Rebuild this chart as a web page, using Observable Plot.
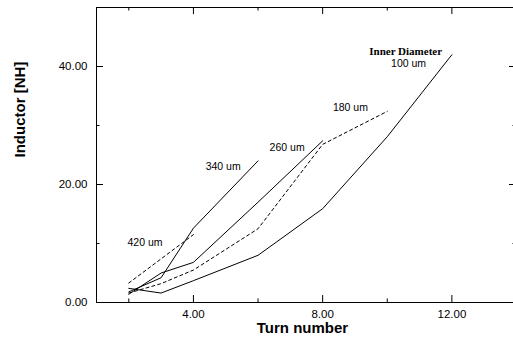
<!DOCTYPE html>
<html><head><meta charset="utf-8">
<script src="https://cdn.jsdelivr.net/npm/d3@7"></script>
<script src="https://cdn.jsdelivr.net/npm/@observablehq/plot@0.6"></script>
<style>html,body{margin:0;padding:0;overflow:hidden;background:#fff;width:513px;height:341px}</style>
</head><body><div id="chart"></div>
<script>
// Inductance [nH] vs turn number for several inner diameters
const turns100 = [2, 3, 4, 6, 8, 10, 12];
const ind100   = [2.4, 1.6, 3.7, 8.0, 15.9, 28.1, 42.0];
const turns180 = [2, 3, 4, 6, 8, 10];
const ind180   = [1.6, 3.2, 5.5, 12.5, 26.8, 32.4];
const turns260 = [2, 3, 4, 6, 8];
const ind260   = [1.4, 5.0, 6.8, 17.0, 27.4];
const turns340 = [2, 3, 4, 6];
const ind340   = [1.8, 4.2, 12.6, 24.0];
const turns420 = [2, 3, 4];
const ind420   = [3.3, 7.4, 11.5];

const labelText = ["Inner Diameter", "100 um", "180 um", "260 um", "340 um", "420 um"];
const labelTurn = [10.57, 10.66, 8.86, 6.9, 4.92, 2.5];
const labelInd  = [42.6, 40.5, 33.1, 26.3, 23.1, 10.1];

const xMajor = [4, 8, 12];
const xMinor = [2, 6, 10];
const yMajor = [0, 20, 40];
const yMinor = [10, 30];

const zip = (xs, ys) => xs.map((x, i) => ({x, y: ys[i]}));
const s100 = zip(turns100, ind100), s180 = zip(turns180, ind180), s260 = zip(turns260, ind260),
      s340 = zip(turns340, ind340), s420 = zip(turns420, ind420);
const labels = labelText.map((t, i) => ({t, x: labelTurn[i], y: labelInd[i]}));

const W = 520, H = 341, mL = 96, mR = 4, mT = 7, mB = 39;
const pw = W - mL - mR, ph = H - mT - mB;
const fmt = d => d.toFixed(2);

const chart = Plot.plot({
  width: W, height: H,
  marginLeft: mL, marginRight: mR, marginTop: mT, marginBottom: mB,
  style: {fontFamily: "'Liberation Sans', Arial, sans-serif", background: "#fff", color: "#000", overflow: "visible", maxWidth: "none"},
  x: {domain: [1, 14]},
  y: {domain: [0, 50]},
  marks: [
    Plot.frame({stroke: "#000", strokeWidth: 1}),
    // inward ticks: bottom, top, left, right
    Plot.tickX(xMajor, {x: d => d, insetTop: ph - 7, stroke: "#000"}),
    Plot.tickX(xMinor, {x: d => d, insetTop: ph - 3.5, stroke: "#000"}),
    Plot.tickX(xMajor, {x: d => d, insetBottom: ph - 7, stroke: "#000"}),
    Plot.tickX(xMinor, {x: d => d, insetBottom: ph - 3.5, stroke: "#000"}),
    Plot.tickY(yMajor, {y: d => d, insetRight: pw - 7, stroke: "#000"}),
    Plot.tickY(yMinor, {y: d => d, insetRight: pw - 3.5, stroke: "#000"}),
    Plot.tickY(yMajor, {y: d => d, insetLeft: pw - 7, stroke: "#000"}),
    Plot.tickY(yMinor, {y: d => d, insetLeft: pw - 3.5, stroke: "#000"}),
    Plot.axisX(xMajor, {tickSize: 0, tickPadding: 7, tickFormat: fmt, fontSize: 11.5, label: null, style: {letterSpacing: "2px"}}),
    Plot.axisY(yMajor, {tickSize: 0, tickPadding: 9, tickFormat: fmt, fontSize: 11.5, label: null, style: {letterSpacing: "2px"}}),
    Plot.line(s100, {x: "x", y: "y", stroke: "#000", strokeWidth: 1}),
    Plot.line(s260, {x: "x", y: "y", stroke: "#000", strokeWidth: 1}),
    Plot.line(s340, {x: "x", y: "y", stroke: "#000", strokeWidth: 1}),
    Plot.line(s180, {x: "x", y: "y", stroke: "#000", strokeWidth: 1, strokeDasharray: "3,3"}),
    Plot.line(s420, {x: "x", y: "y", stroke: "#000", strokeWidth: 1, strokeDasharray: "3,3"}),
    Plot.text(labels.slice(1), {x: "x", y: "y", text: "t", fontSize: 10.5, fill: "#000", textAnchor: "middle", style: {letterSpacing: "0.6px"}}),
    Plot.text(labels.slice(0, 1), {x: "x", y: "y", text: "t", fontSize: 11, fontWeight: "bold", fill: "#000", textAnchor: "middle", fontFamily: "'Liberation Serif', 'Times New Roman', serif"}),
    Plot.text(["Turn number"], {frameAnchor: "bottom", dy: 26, dx: -4, text: d => d, fontSize: 15, fontWeight: "bold", fill: "#000", lineAnchor: "middle", style: {letterSpacing: "1px"}}),
    Plot.text(["Inductor [NH]"], {frameAnchor: "left", dx: -76, dy: 2.5, rotate: -90, text: d => d, fontSize: 15, fontWeight: "bold", fill: "#000", lineAnchor: "middle", style: {letterSpacing: "0.5px"}})
  ]
});
document.getElementById("chart").appendChild(chart);
</script>
</body></html>
